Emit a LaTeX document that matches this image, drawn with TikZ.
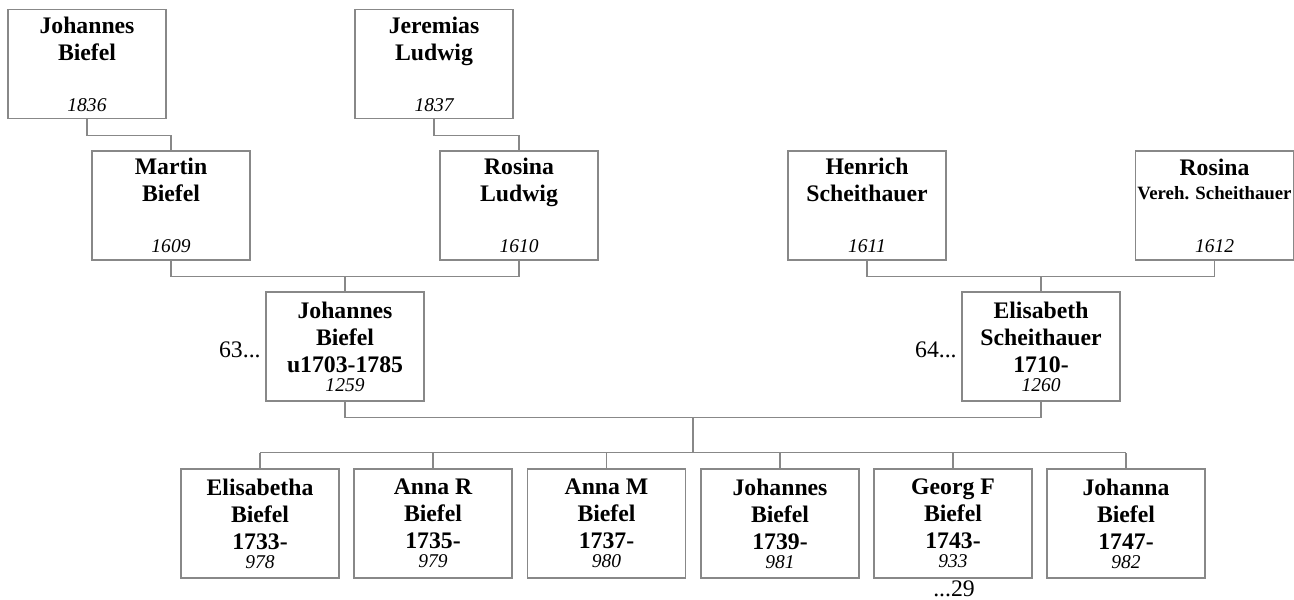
\documentclass[tikz,border=0pt]{standalone}
\usepackage{fontspec}
\setmainfont{Liberation Serif}
\usepackage{tikz}
\usetikzlibrary{positioning,calc}

\definecolor{boxgray}{RGB}{136,136,136}
\tikzset{
  person/.style={draw=boxgray,line width=0.75pt,minimum width=31.6mm,minimum height=21.8mm,
    inner sep=0pt,align=center,font=\bfseries\fontsize{13.5}{15.4}\selectfont,
    execute at begin node={\rule{0pt}{9.6pt}}},
  link/.style={draw=boxgray,line width=0.75pt},
  refno/.style={font=\fontsize{13.5}{15.4}\selectfont,inner sep=0pt}
}
\newcommand{\ahnr}[1]{{\normalfont\itshape\fontsize{11.1}{12.5}\selectfont #1}}

\begin{document}
\begin{tikzpicture}[x=0.2mm,y=-0.2mm]
\useasboundingbox (0,0) rectangle (1294,599);
\fill[white] (0,0) rectangle (1294,599);
% great-grandparents
\node[person] (johannesA) at (87,64) {Johannes\\Biefel\\[4.8mm]\ahnr{1836}};
\node[person] (jeremias) at (434,64) {Jeremias\\Ludwig\\[4.8mm]\ahnr{1837}};
% grandparents
\node[person] (martin) at (171,205.5) {Martin\\Biefel\\[4.8mm]\ahnr{1609}};
\node[person] (rosinaL) at (519,205.5) {Rosina\\Ludwig\\[4.8mm]\ahnr{1610}};
\node[person] (henrich) at (867,205.5) {Henrich\\Scheithauer\\[4.8mm]\ahnr{1611}};
\node[person] (rosinaS) at (1214.5,205.5) {Rosina\\[-0.6mm]{\fontsize{10.7}{11}\selectfont Vereh. Scheithauer}\\[5.2mm]\ahnr{1612}};
% parents
\node[person] (johannes) at (345,346.5) {Johannes\\Biefel\\u1703-1785\\[-1.6mm]\ahnr{1259}};
\node[person] (elisabeth) at (1041,346.5) {Elisabeth\\Scheithauer\\1710-\\[-1.6mm]\ahnr{1260}};
\node[refno,anchor=base east] (upJ) at (261,357) {63...};
\node[refno,anchor=base east] (upE) at (957,357) {64...};
% children
\node[person] (elisabetha) at (260,523.5) {Elisabetha\\Biefel\\1733-\\[-1.6mm]\ahnr{978}};
\node[person] (annaR) at (433,523.5) {Anna R\\Biefel\\1735-\\[-1.6mm]\ahnr{979}};
\node[person] (annaM) at (606.5,523.5) {Anna M\\Biefel\\1737-\\[-1.6mm]\ahnr{980}};
\node[person] (johannesC) at (780,523.5) {Johannes\\Biefel\\1739-\\[-1.6mm]\ahnr{981}};
\node[person] (georg) at (953,523.5) {Georg F\\Biefel\\1743-\\[-1.6mm]\ahnr{933}};
\node[person] (johanna) at (1126,523.5) {Johanna\\Biefel\\1747-\\[-1.6mm]\ahnr{982}};
\node[refno,anchor=base] (downG) at (954,596) {...29};
% lines
\draw[link] (johannesA.south) -- ++(0,16) -| (martin.north);
\draw[link] (jeremias.south) -- ++(0,16) -| (rosinaL.north);
\draw[link] (martin.south) -- ++(0,16) coordinate (mJ) -| (rosinaL.south);
\draw[link] (johannes.north) -- (johannes.north |- mJ);
\draw[link] (henrich.south) -- ++(0,16) coordinate (mE) -| (rosinaS.south);
\draw[link] (elisabeth.north) -- (elisabeth.north |- mE);
\draw[link] (johannes.south) -- ++(0,16) coordinate (mC) -| (elisabeth.south);
\draw[link] ($(mC)!0.5!(elisabeth.south |- mC)$) -- ++(0,35) coordinate (kids);
\draw[link] (elisabetha.north |- kids) -- (johanna.north |- kids);
\foreach \c in {elisabetha,annaR,annaM,johannesC,georg,johanna}
  \draw[link] (\c.north) -- (\c.north |- kids);
\end{tikzpicture}
\end{document}
